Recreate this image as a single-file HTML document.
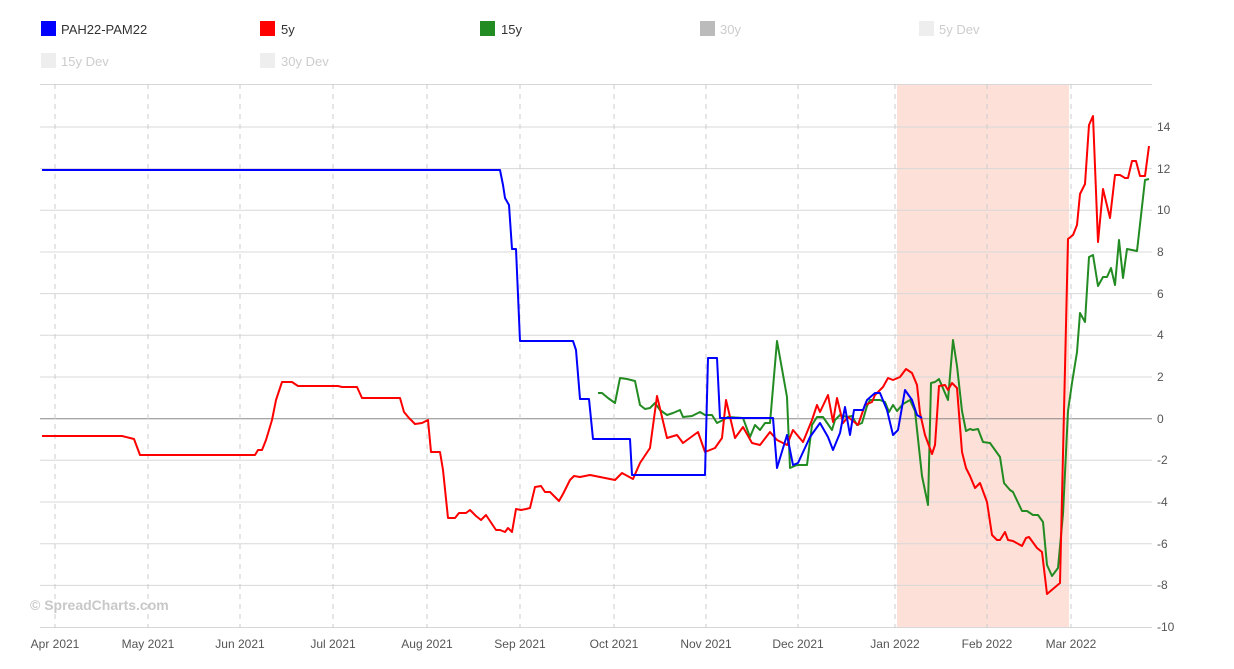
<!DOCTYPE html>
<html><head><meta charset="utf-8"><style>
body{margin:0;background:#fff;font-family:"Liberation Sans",sans-serif;}
svg text{font-family:"Liberation Sans",sans-serif;}
</style></head><body>
<svg width="1234" height="664" viewBox="0 0 1234 664" xmlns="http://www.w3.org/2000/svg">
<rect width="1234" height="664" fill="#fff"/>
<g font-size="13">
<rect x="41" y="21" width="15" height="15" fill="#0000ff"/><text x="61" y="34" fill="#333">PAH22-PAM22</text>
<rect x="260" y="21" width="15" height="15" fill="#ff0000"/><text x="281" y="34" fill="#333">5y</text>
<rect x="480" y="21" width="15" height="15" fill="#228b22"/><text x="501" y="34" fill="#333">15y</text>
<rect x="700" y="21" width="15" height="15" fill="#bbb"/><text x="720" y="34" fill="#ccc">30y</text>
<rect x="919" y="21" width="15" height="15" fill="#eee"/><text x="939" y="34" fill="#ccc">5y Dev</text>
<rect x="41" y="53" width="15" height="15" fill="#eee"/><text x="61" y="66" fill="#ccc">15y Dev</text>
<rect x="260" y="53" width="15" height="15" fill="#eee"/><text x="281" y="66" fill="#ccc">30y Dev</text>
</g>
<rect x="897" y="84" width="172" height="544" fill="#fde0d8"/>
<g stroke="#d8d8d8" stroke-width="1">
<line x1="40" x2="1152" y1="84.5" y2="84.5"/>
<line x1="40" x2="1152" y1="127" y2="127"/><line x1="40" x2="1152" y1="168.6" y2="168.6"/>
<line x1="40" x2="1152" y1="210.3" y2="210.3"/><line x1="40" x2="1152" y1="252" y2="252"/>
<line x1="40" x2="1152" y1="293.6" y2="293.6"/><line x1="40" x2="1152" y1="335.3" y2="335.3"/>
<line x1="40" x2="1152" y1="377" y2="377"/><line x1="40" x2="1152" y1="460.3" y2="460.3"/>
<line x1="40" x2="1152" y1="502" y2="502"/><line x1="40" x2="1152" y1="543.7" y2="543.7"/>
<line x1="40" x2="1152" y1="585.4" y2="585.4"/><line x1="40" x2="1152" y1="627.5" y2="627.5"/>
</g>
<line x1="40" x2="1152" y1="418.7" y2="418.7" stroke="#888" stroke-width="1"/>
<g stroke="#ccc" stroke-dasharray="5,5" stroke-width="1">
<line x1="55" x2="55" y1="84" y2="628"/><line x1="148" x2="148" y1="84" y2="628"/>
<line x1="240" x2="240" y1="84" y2="628"/><line x1="333" x2="333" y1="84" y2="628"/>
<line x1="427" x2="427" y1="84" y2="628"/><line x1="520" x2="520" y1="84" y2="628"/>
<line x1="614" x2="614" y1="84" y2="628"/><line x1="706" x2="706" y1="84" y2="628"/>
<line x1="798" x2="798" y1="84" y2="628"/><line x1="895" x2="895" y1="84" y2="628"/>
<line x1="987" x2="987" y1="84" y2="628"/><line x1="1071" x2="1071" y1="84" y2="628"/>
</g>
<g font-size="12" fill="#555">
<text x="1157" y="131">14</text><text x="1157" y="173">12</text><text x="1157" y="214">10</text>
<text x="1157" y="256">8</text><text x="1157" y="298">6</text><text x="1157" y="339">4</text>
<text x="1157" y="381">2</text><text x="1157" y="423">0</text><text x="1157" y="464">-2</text>
<text x="1157" y="506">-4</text><text x="1157" y="548">-6</text><text x="1157" y="589">-8</text>
<text x="1157" y="631">-10</text>
</g>
<g font-size="12" fill="#555" text-anchor="middle">
<text x="55" y="648">Apr 2021</text><text x="148" y="648">May 2021</text><text x="240" y="648">Jun 2021</text>
<text x="333" y="648">Jul 2021</text><text x="427" y="648">Aug 2021</text><text x="520" y="648">Sep 2021</text>
<text x="614" y="648">Oct 2021</text><text x="706" y="648">Nov 2021</text><text x="798" y="648">Dec 2021</text>
<text x="895" y="648">Jan 2022</text><text x="987" y="648">Feb 2022</text><text x="1071" y="648">Mar 2022</text>
</g>
<text x="30" y="610" font-size="14" font-weight="bold" fill="#c8c8c8">© SpreadCharts.com</text>
<g fill="none" stroke-width="2" stroke-linejoin="round">
<polyline stroke="#228b22" points="598,393 602,393 608,398 615,403 620,378 627,379 635,381 640,405 645,409 650,408 655,403 660,410 667,415 673,413 680,410 683,417 692,416 700,412 705,415 712,415 717,423 723,420 728,417 743,418 750,437 755,425 760,430 765,423 770,423 777,341 787,397 790,468 797,465 807,465 812,425 817,417 823,417 832,430 835,420 840,415 847,417 852,416 857,425 862,423 867,406 870,400 880,400 885,402 889,412 893,405 897,411 903,404 910,400 915,411 922,476 928,505 931,383 935,382 939,379 948,400 953,340 957,366 962,411 966,431 970,429 973,430 978,429 983,442 990,443 1000,457 1004,483 1010,490 1013,492 1022,511 1027,511 1033,515 1038,515 1043,522 1047,565 1052,576 1058,568 1063,514 1068,411 1072,383 1077,352 1080,313 1085,322 1089,257 1093,255 1098,286 1103,277 1107,277 1111,268 1115,285 1119,240 1123,278 1127,249 1137,251 1145,180 1149,179"/>
<polyline stroke="#ff0000" points="42,436 122,436 130,438 134,439 140,455 255,455 258,450 262,450 266,440 272,420 276,400 282,382 292,382 298,386 338,386 342,387 357,387 362,398 400,398 404,412 409,418 415,424 422,423 428,420 431,452 440,452 443,470 448,518 455,518 459,513 466,513 470,510 476,516 481,520 486,515 490,521 496,530 500,530 505,532 508,528 512,532 516,509 521,510 526,509 530,508 535,487 541,486 545,492 550,492 555,497 559,501 563,494 566,488 570,480 574,476 580,477 590,475 600,477 615,480 622,473 633,479 640,463 650,448 657,396 667,438 677,435 683,443 698,432 705,452 715,448 722,438 726,400 735,438 743,427 752,443 760,445 770,432 777,440 787,445 793,430 803,442 812,420 817,405 820,412 828,395 833,422 837,398 843,423 848,417 858,425 865,405 872,402 875,395 883,387 888,378 893,380 900,377 906,369 912,373 917,385 920,413 925,435 932,454 935,445 939,386 945,385 948,390 952,383 957,388 962,452 966,468 970,476 975,488 980,483 987,502 992,535 997,540 1000,540 1005,532 1008,540 1013,541 1022,546 1026,538 1029,537 1037,548 1042,552 1047,594 1060,583 1068,239 1073,235 1077,225 1080,194 1085,184 1089,125 1093,116 1098,242 1103,189 1110,218 1115,175 1120,175 1125,178 1128,178 1132,161 1136,161 1140,176 1145,176 1149,146"/>
<polyline stroke="#0000ff" points="42,170 500,170 503,185 505,198 509,205 512,249 516,249 520,341 573,341 576,350 580,399 589,399 593,439 630,439 632,475 705,475 708,358 717,358 720,418 773,418 777,468 787,435 793,465 798,463 810,437 820,423 828,437 833,450 840,433 845,407 850,435 854,410 863,410 867,400 875,393 880,393 887,410 893,435 898,430 905,390 912,400 917,415 922,418"/>
</g>
</svg>
</body></html>
